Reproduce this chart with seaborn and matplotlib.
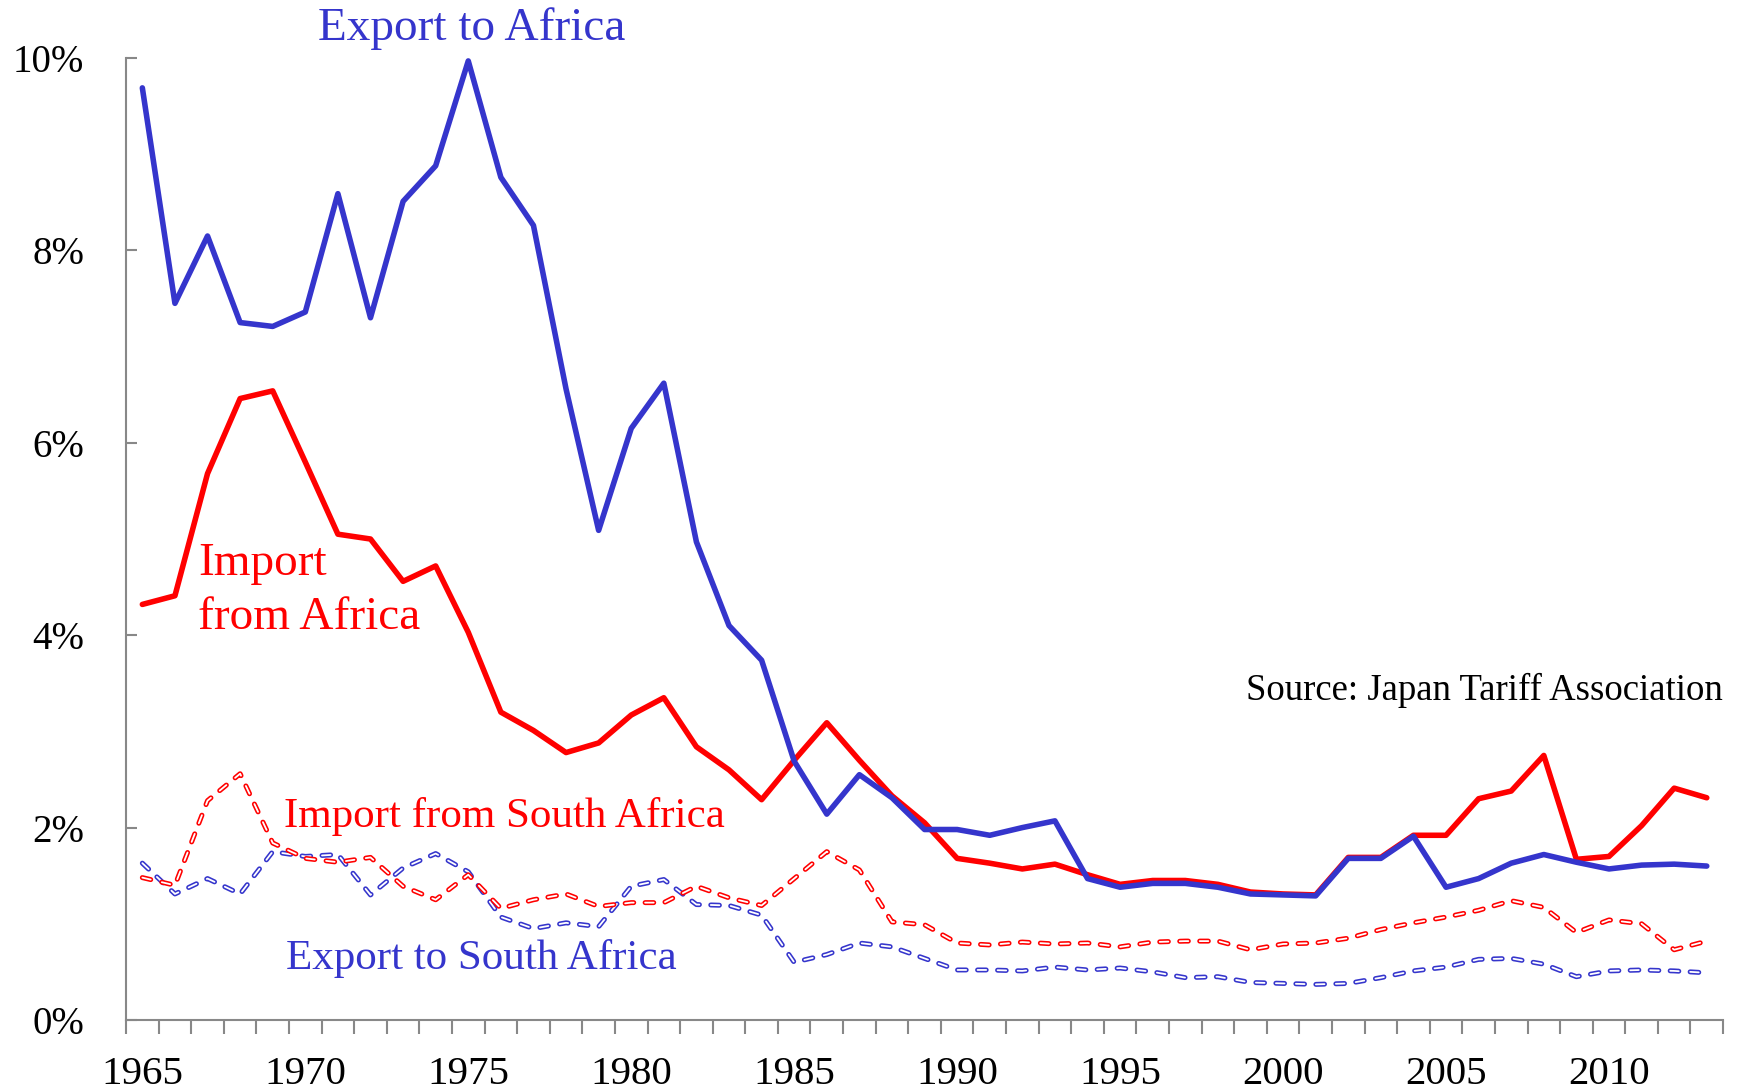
import numpy as np
import pandas as pd
import matplotlib
matplotlib.use("Agg")
import matplotlib.pyplot as plt
import seaborn as sns
from matplotlib.ticker import FixedLocator, FuncFormatter

sns.set_theme(style="white")
plt.rcParams['font.family'] = ['Liberation Serif', 'DejaVu Serif']
plt.rcParams['lines.scale_dashes'] = False

# Share of Japan's trade (%), 1965-2013
years = list(range(1965, 2014))

export_africa = [9.69, 7.45, 8.15, 7.25, 7.21, 7.36, 8.59, 7.30, 8.51, 8.88,
                 9.97, 8.76, 8.26, 6.56, 5.09, 6.15, 6.62, 4.97, 4.10, 3.74,
                 2.69, 2.14, 2.55, 2.31, 1.98, 1.98, 1.92, 2.00, 2.07, 1.47,
                 1.38, 1.42, 1.42, 1.38, 1.31, 1.30, 1.29, 1.68, 1.68, 1.91,
                 1.38, 1.47, 1.63, 1.72, 1.64, 1.57, 1.61, 1.62, 1.60]

import_africa = [4.32, 4.41, 5.68, 6.46, 6.54, 5.80, 5.05, 5.00, 4.56, 4.72,
                 4.03, 3.20, 3.01, 2.78, 2.88, 3.17, 3.35, 2.84, 2.60, 2.29,
                 2.70, 3.09, 2.70, 2.33, 2.05, 1.68, 1.63, 1.57, 1.62, 1.51,
                 1.41, 1.45, 1.45, 1.41, 1.33, 1.31, 1.30, 1.69, 1.69, 1.92,
                 1.92, 2.30, 2.38, 2.75, 1.67, 1.70, 2.02, 2.41, 2.31]

import_south_africa = [1.48, 1.40, 2.28, 2.56, 1.84, 1.68, 1.64, 1.69, 1.39, 1.25,
                       1.51, 1.16, 1.25, 1.31, 1.18, 1.22, 1.22, 1.39, 1.27, 1.19,
                       1.47, 1.75, 1.56, 1.02, 0.99, 0.80, 0.78, 0.81, 0.79, 0.80,
                       0.76, 0.81, 0.82, 0.82, 0.73, 0.79, 0.80, 0.85, 0.94, 1.01,
                       1.07, 1.14, 1.24, 1.17, 0.91, 1.04, 1.00, 0.73, 0.82]

export_south_africa = [1.63, 1.31, 1.47, 1.31, 1.75, 1.70, 1.72, 1.30, 1.58, 1.73,
                       1.54, 1.07, 0.95, 1.01, 0.97, 1.39, 1.46, 1.20, 1.19, 1.09,
                       0.60, 0.68, 0.80, 0.76, 0.64, 0.52, 0.52, 0.51, 0.55, 0.52,
                       0.54, 0.50, 0.44, 0.45, 0.39, 0.38, 0.37, 0.38, 0.44, 0.51,
                       0.55, 0.63, 0.64, 0.58, 0.45, 0.51, 0.52, 0.51, 0.49]

year_labels = [1965, 1970, 1975, 1980, 1985, 1990, 1995, 2000, 2005, 2010]
pct_ticks = [0, 2, 4, 6, 8, 10]

blue = '#3535CC'
red = '#FF0000'

df = pd.DataFrame({'year': years,
                   'export_africa': export_africa,
                   'import_africa': import_africa,
                   'import_sa': import_south_africa,
                   'export_sa': export_south_africa})

fig = plt.figure(figsize=(17.41, 10.91), dpi=100)
ax = fig.add_axes([0.0724, 0.0651, 0.9173, 0.8817])

# dashed series: coloured dash with a thin white core -> hollow capsules
dash = (6.2, 8.2)
for col, c in [('export_sa', blue), ('import_sa', red)]:
    sns.lineplot(data=df, x='year', y=col, ax=ax, color=c, linewidth=3.6,
                 dashes=dash, dash_capstyle='round', solid_capstyle='round')
    sns.lineplot(data=df, x='year', y=col, ax=ax, color='white', linewidth=1.3,
                 dashes=dash, dash_capstyle='round')

# solid series
sns.lineplot(data=df, x='year', y='import_africa', ax=ax, color=red,
             linewidth=4, solid_capstyle='round')
sns.lineplot(data=df, x='year', y='export_africa', ax=ax, color=blue,
             linewidth=4, solid_capstyle='round')

ax.set_xlim(1964.5, 2013.5)
ax.set_ylim(0, 10)
ax.set_xlabel('')
ax.set_ylabel('')

ax.xaxis.set_major_locator(FixedLocator(year_labels))
ax.xaxis.set_minor_locator(FixedLocator(np.arange(1964.5, 2014, 1.0)))
ax.tick_params(axis='x', which='major', length=0, pad=26, labelsize=29.5,
               labelcolor='black')
ax.tick_params(axis='x', which='minor', length=10, width=1.5, color='#888888',
               direction='out', bottom=True)

ax.yaxis.set_major_locator(FixedLocator(pct_ticks))
ax.yaxis.set_major_formatter(FuncFormatter(lambda v, p: f'{v:.0f}%'))
ax.tick_params(axis='y', which='major', length=8, width=1.5, color='#888888',
               direction='in', left=True, pad=30, labelsize=28, labelcolor='black')

for side in ['top', 'right']:
    ax.spines[side].set_visible(False)
for side in ['left', 'bottom']:
    ax.spines[side].set_color('#888888')
    ax.spines[side].set_linewidth(1.5)
ax.grid(False)

# direct labels
ax.text(1975.1, 10.31, 'Export to Africa', color=blue, fontsize=34,
        ha='center', va='center')
ax.text(1966.7, 4.46, 'Import\nfrom Africa', color=red, fontsize=34,
        ha='left', va='center', linespacing=1.35)
ax.text(1976.1, 2.12, 'Import from South Africa', color=red, fontsize=31,
        ha='center', va='center')
ax.text(1975.4, 0.64, 'Export to South Africa', color=blue, fontsize=31,
        ha='center', va='center')
ax.text(2013.5, 3.43, 'Source: Japan Tariff Association', color='black',
        fontsize=26.5, ha='right', va='center')

fig.savefig('out.png', dpi=100)
